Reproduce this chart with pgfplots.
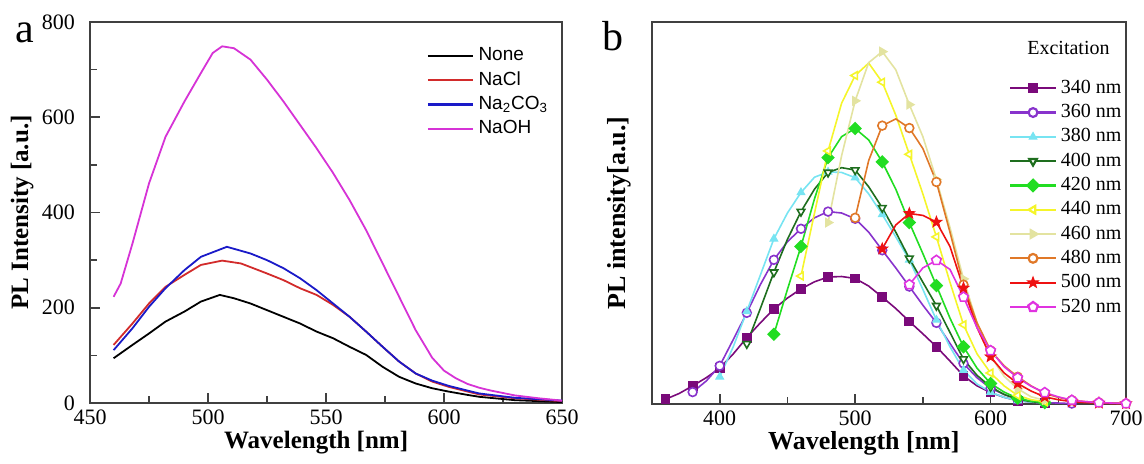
\documentclass[border=0pt]{standalone}
\usepackage{fontspec}
\setmainfont{Liberation Serif}
\newfontfamily\arial{Liberation Sans}
\usepackage{pgfplots}
\pgfplotsset{compat=1.18}
\usetikzlibrary{plotmarks}

\definecolor{cnacl}{HTML}{D22B2B}
\definecolor{cnaco}{HTML}{1A1AC8}
\definecolor{cnaoh}{HTML}{D633D6}
\definecolor{c340}{HTML}{7A0A7A}
\definecolor{c360}{HTML}{8833CC}
\definecolor{c380}{HTML}{77E4F2}
\definecolor{c400}{HTML}{1E6E1E}
\definecolor{c420}{HTML}{22DD22}
\definecolor{c440}{HTML}{F5F52A}
\definecolor{c460}{HTML}{E3E3A0}
\definecolor{c480}{HTML}{E07828}
\definecolor{c500}{HTML}{EE1111}
\definecolor{c520}{HTML}{E033E0}

% filled five-pointed star
\pgfdeclareplotmark{fstar}{%
  \pgfpathmoveto{\pgfqpointpolar{90}{\pgfplotmarksize}}%
  \pgfpathlineto{\pgfqpointpolar{126}{0.42\pgfplotmarksize}}%
  \pgfpathlineto{\pgfqpointpolar{162}{\pgfplotmarksize}}%
  \pgfpathlineto{\pgfqpointpolar{198}{0.42\pgfplotmarksize}}%
  \pgfpathlineto{\pgfqpointpolar{234}{\pgfplotmarksize}}%
  \pgfpathlineto{\pgfqpointpolar{270}{0.42\pgfplotmarksize}}%
  \pgfpathlineto{\pgfqpointpolar{306}{\pgfplotmarksize}}%
  \pgfpathlineto{\pgfqpointpolar{342}{0.42\pgfplotmarksize}}%
  \pgfpathlineto{\pgfqpointpolar{18}{\pgfplotmarksize}}%
  \pgfpathlineto{\pgfqpointpolar{54}{0.42\pgfplotmarksize}}%
  \pgfpathclose
  \pgfusepathqfillstroke}

\pgfplotsset{
  panel/.style={
    scale only axis,
    axis line style={black!75, line width=0.9pt},
    tick style={black!75, line width=0.8pt},
    tick align=inside,
    xtick pos=left, ytick pos=left,
    major tick length=5pt,
    minor tick length=3.5pt,
    tick label style={font=\fontsize{11}{13}\selectfont},
    /pgf/number format/assume math mode=true,
    label style={font=\bfseries\fontsize{12.5}{15}\selectfont},
  },
  legend image code/.code={\draw[mark repeat=2,mark phase=2,#1,line width=1.1pt] plot coordinates {(0cm,0cm) (0.4cm,0cm) (0.8cm,0cm)};},
  spec/.style={line width=0.8pt, mark size=2.2pt, mark repeat=2, mark options={line width=0.5pt}},
}

\begin{document}
\begin{tikzpicture}
\useasboundingbox (0,0) rectangle (572pt,-231.5pt);

% panel a
\begin{axis}[panel, at={(45pt,-201.5pt)}, anchor=south west,
  width=236pt, height=190.5pt,
  xmin=450, xmax=650, ymin=0, ymax=800,
  xtick={450,500,...,650}, ytick={0,200,...,800},
  minor x tick num=1, minor y tick num=1,
  xlabel={Wavelength [nm]}, ylabel={PL Intensity [a.u.]},
  xlabel style={at={(axis description cs:0.479,-0.105)}, anchor=center},
  ylabel style={at={(axis description cs:-0.144,0.5)}, anchor=center},
  yticklabel style={xshift=-4pt},
  legend style={at={(axis description cs:0.70,0.955)}, anchor=north west,
    draw=none, fill=none, font=\arial\fontsize{9.5}{11}\selectfont},
  legend cell align=left,
]
\addplot[black, line width=0.9pt] coordinates {
(460,94)(468,122)(475,146)(482,171)(490,192)(497,213)(505,227)(511,220)(518,209)(525,195)(532,181)(539,167)(546,150)(553,136)(560,118)(567,101)(574,76)(581,55)(588,41)(595,31)(602,24)(610,17)(615,13)(630,6)(650,2)};
\addlegendentry{None}
\addplot[cnacl, line width=0.9pt] coordinates {
(460,122)(468,167)(475,209)(482,244)(490,269)(497,290)(506,299)(514,293)(525,272)(532,258)(539,241)(546,227)(553,206)(560,181)(567,150)(574,118)(581,87)(588,62)(595,45)(602,34)(610,24)(615,18)(630,10)(650,4)};
\addlegendentry{NaCl}
\addplot[cnaco, line width=0.9pt] coordinates {
(460,111)(468,157)(475,202)(482,241)(490,279)(497,307)(508,328)(518,314)(525,300)(532,283)(539,262)(546,237)(553,209)(560,181)(567,150)(574,118)(581,87)(588,62)(595,47)(602,36)(610,26)(615,20)(630,11)(650,5)};
\addlegendentry{Na\textsubscript{2}CO\textsubscript{3}}
\addplot[cnaoh, line width=0.9pt] coordinates {
(460,223)(463,251)(468,335)(475,461)(482,559)(490,633)(497,693)(502,735)(506,749)(511,745)(518,721)(525,679)(532,633)(539,584)(546,535)(553,483)(560,426)(567,363)(574,293)(581,223)(588,153)(595,95)(600,68)(605,52)(610,40)(615,32)(620,26)(630,16)(640,10)(650,5)};
\addlegendentry{NaOH}
\end{axis}

% panel b
\begin{axis}[panel, at={(326pt,-202pt)}, anchor=south west,
  width=237pt, height=191pt,
  xmin=350, xmax=700, ymin=0, ymax=800,
  xtick={400,500,600,700}, minor xtick={450,550,650}, ytick=\empty,
  xlabel={Wavelength [nm]}, ylabel={PL intensity[a.u.]},
  label style={font=\bfseries\fontsize{13}{15}\selectfont},
  xlabel style={at={(axis description cs:0.447,-0.102)}, anchor=center},
  ylabel style={at={(axis description cs:-0.07,0.5)}, anchor=center},
  legend style={at={(axis description cs:0.74,0.87)}, anchor=north west,
    draw=none, fill=none, font=\fontsize{10}{12}\selectfont},
  legend cell align=left,
]
\addplot[spec, c340, mark=square*] coordinates {
(360,10)(370,22)(380,38)(390,55)(400,75)(410,105)(420,139)(430,170)(440,199)(450,222)(460,241)(470,256)(480,266)(490,267)(500,263)(510,247)(520,224)(530,200)(540,173)(550,147)(560,120)(570,90)(580,59)(590,38)(600,24)(610,14)(620,7)(630,4)(640,2)};
\addlegendentry{340 nm}
\addplot[spec, c360, mark=*, mark options={fill=white}] coordinates {
(380,25)(390,48)(400,80)(410,135)(420,191)(430,250)(440,302)(450,340)(460,367)(470,390)(480,403)(490,400)(500,388)(510,360)(520,322)(530,285)(540,246)(550,207)(560,170)(570,127)(580,85)(590,55)(600,33)(610,20)(620,10)(630,6)(640,3)(650,2)(660,1)};
\addlegendentry{360 nm}
\addplot[spec, c380, mark=triangle*] coordinates {
(400,57)(410,120)(420,194)(430,270)(440,346)(450,400)(460,443)(470,475)(480,486)(490,485)(500,474)(510,440)(520,397)(530,350)(540,302)(550,240)(560,176)(570,120)(580,71)(590,42)(600,25)(610,14)(620,7)(630,4)(640,2)};
\addlegendentry{380 nm}
\addplot[spec, c400, mark=triangle*, mark options={rotate=180, fill=white}] coordinates {
(420,126)(430,200)(440,276)(450,345)(460,403)(470,450)(480,485)(490,495)(500,490)(510,455)(520,411)(530,360)(540,305)(550,255)(560,206)(570,150)(580,94)(590,60)(600,36)(610,20)(620,10)(630,5)(640,2)};
\addlegendentry{400 nm}
\addplot[spec, c420, mark=square*, mark options={rotate=45}, mark size=2pt] coordinates {
(440,146)(450,240)(460,330)(470,430)(480,516)(490,560)(500,577)(510,553)(520,507)(530,450)(540,380)(550,315)(560,248)(570,180)(580,120)(590,75)(600,43)(610,25)(620,12)(630,6)(640,3)};
\addlegendentry{420 nm}
\addplot[spec, c440, mark=triangle*, mark options={rotate=90, fill=white}] coordinates {
(460,268)(470,400)(480,530)(490,630)(500,688)(510,714)(520,674)(530,605)(540,523)(550,440)(560,350)(570,255)(580,166)(590,105)(600,65)(610,38)(620,18)(630,9)(640,5)};
\addlegendentry{440 nm}
\addplot[spec, c460, mark=triangle*, mark options={rotate=-90}] coordinates {
(480,380)(490,520)(500,635)(510,715)(520,738)(530,700)(540,627)(550,560)(560,470)(570,370)(580,262)(590,170)(600,100)(610,58)(620,32)(630,15)(640,8)};
\addlegendentry{460 nm}
\addplot[spec, c480, mark=*, mark options={fill=white}] coordinates {
(500,390)(510,510)(520,583)(530,597)(540,578)(550,535)(560,465)(570,360)(580,250)(590,170)(600,112)(610,80)(620,57)(630,38)(640,22)(650,14)(660,8)(670,5)(680,3)(690,2)(700,1)};
\addlegendentry{480 nm}
\addplot[spec, c500, mark=fstar, mark size=2.8pt] coordinates {
(520,325)(530,375)(540,399)(550,395)(560,381)(570,330)(580,243)(590,160)(600,99)(610,65)(620,43)(630,27)(640,15)(650,9)(660,5)(670,3)(680,2)(690,1)(700,1)};
\addlegendentry{500 nm}
\addplot[spec, c520, mark=pentagon*, mark options={fill=white}, mark size=2.5pt] coordinates {
(540,250)(550,285)(560,301)(570,282)(580,224)(590,160)(600,112)(610,78)(620,55)(630,37)(640,24)(650,15)(660,8)(670,5)(680,3)(690,2)(700,1)};
\addlegendentry{520 nm}
\node[anchor=west, inner sep=0pt, font=\fontsize{10}{12}\selectfont] at (axis description cs:0.791,0.932) {Excitation};
\end{axis}

\node[anchor=base west, inner sep=0pt, font=\fontsize{21}{21}\selectfont] at (7.5pt,-21pt) {a};
\node[anchor=base west, inner sep=0pt, font=\fontsize{21}{21}\selectfont] at (301pt,-25pt) {b};
\end{tikzpicture}
\end{document}
